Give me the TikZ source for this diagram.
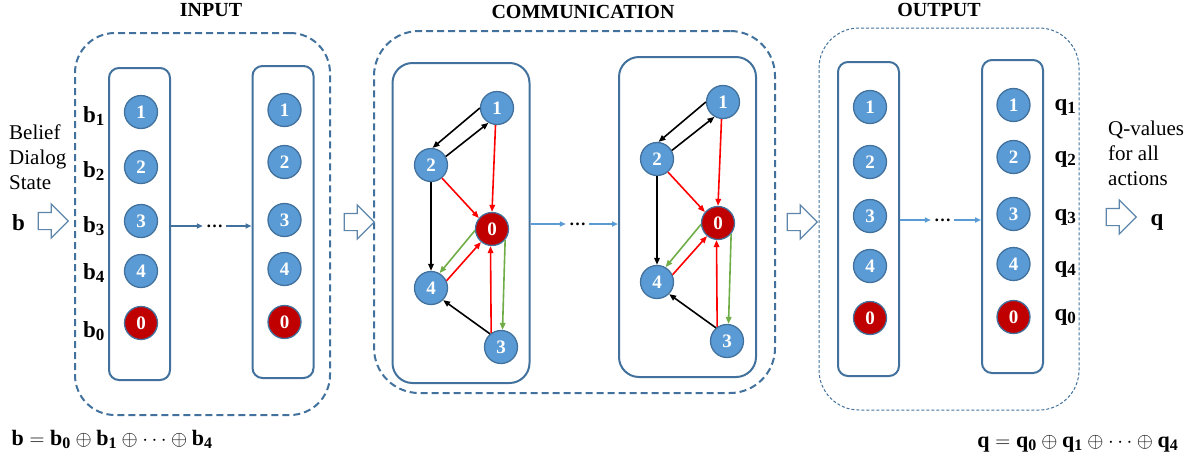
\documentclass[tikz,border=0pt]{standalone}
\usepackage{fontspec}
\setmainfont{Liberation Serif}
\usetikzlibrary{arrows.meta,shapes.arrows}
\definecolor{nodeblue}{HTML}{5B9BD5}
\definecolor{nodered}{HTML}{C00000}
\definecolor{rim}{HTML}{41719C}
\definecolor{edgegreen}{HTML}{70AD47}

\begin{document}
\begin{tikzpicture}[x=1pt,y=-1pt,
  unit/.style={circle,draw=rim,line width=1.3pt,fill=nodeblue,text=white,minimum size=33pt,inner sep=0pt,font=\fontsize{19}{19}\selectfont\bfseries},
  zero/.style={unit,fill=nodered},
  column/.style={draw=rim,line width=2pt,rounded corners=10pt,minimum width=61pt,minimum height=312pt},
  panel/.style={draw=rim,line width=2pt,rounded corners=20pt,minimum width=137pt,minimum height=320pt},
  group/.style={draw=rim,line width=2pt,dash pattern=on 7pt off 4pt,rounded corners=40pt},
  title/.style={font=\fontsize{20}{20}\selectfont\bfseries},
  bigarrow/.style={single arrow,draw=rim!85,line width=1.2pt,fill=white,minimum height=30pt,inner xsep=0pt,inner ysep=8pt,single arrow head extend=8.5pt},
  lbl/.style={font=\fontsize{23}{23}\selectfont,anchor=base},
  txt/.style={font=\fontsize{21}{25}\selectfont,align=left,anchor=north west,inner sep=0pt},
  gap/.style={font=\fontsize{17}{17}\selectfont\bfseries,inner xsep=3pt,inner ysep=0pt},
  link/.style={-{Triangle[length=6pt,width=5pt]},line width=1.6pt},
  msg/.style={-{Triangle[length=7pt,width=5.5pt]},line width=1.6pt}
]
\useasboundingbox (0,0) rectangle (1199,461);

% dashed groups and titles
\node[group,minimum width=255pt,minimum height=382pt] (inbox) at (202.5,224) {};
\node[group,minimum width=401pt,minimum height=362pt,rounded corners=45pt] (commbox) at (574.5,212) {};
\node[group,line width=1pt,dash pattern=on 3pt off 2pt,minimum width=260pt,minimum height=382pt] (outbox) at (949,219) {};
\node[title] (intitle) at (211,10) {INPUT};
\node[title] (commtitle) at (583,12) {COMMUNICATION};
\node[title] (outtitle) at (939,10) {OUTPUT};

% input and output columns
\node[column] (colA) at (139.5,224) {};
\node[column] (colB) at (283,222) {};
\node[column,minimum height=314pt] (colC) at (868.5,219) {};
\node[column,minimum height=313pt] (colD) at (1012.5,216.5) {};
\foreach \n/\y/\s in {1/112/unit,2/167/unit,3/221/unit,4/271/unit,0/323/zero}
  \node[\s] (a\n) at (141,\y) {\n};
\foreach \n/\y/\s in {1/110/unit,2/162/unit,3/220/unit,4/269/unit,0/322/zero}
  \node[\s] (b\n) at (284.5,\y) {\n};
\foreach \n/\y/\s in {1/107/unit,2/162/unit,3/216/unit,4/266/unit,0/318/zero}
  \node[\s] (c\n) at (870,\y) {\n};
\foreach \n/\y/\s in {1/105/unit,2/157/unit,3/214/unit,4/264/unit,0/317/zero}
  \node[\s] (d\n) at (1013.5,\y) {\n};
\foreach \n/\y in {1/122,2/177,3/232,4/279,0/337}
  \node[lbl] (bl\n) at (94,\y) {$\mathbf{b}_{\hbox{\fontsize{17}{17}\selectfont\bfseries\n}}$};
\foreach \n/\y in {1/110,2/162,3/220,4/272,0/320}
  \node[lbl,anchor=base west] (ql\n) at (1051,\y) {$\mathbf{q}_{\hbox{\fontsize{17}{17}\selectfont\bfseries\n}}$};

% communication panels
\node[panel] (panelA) at (461,223) {};
\node[panel] (panelB) at (687.5,217) {};
\foreach \g/\dx/\dy in {A/0/0,B/226/-6}{
  \begin{scope}[shift={(\dx,\dy)}]
    \node[unit] (\g1) at (497,108) {1};
    \node[unit] (\g2) at (431,165) {2};
    \node[zero] (\g0) at (492,229) {0};
    \node[unit] (\g4) at (431,288) {4};
    \node[unit] (\g3) at (501,347) {3};
  \end{scope}
  \draw[msg] (\g1.180) -- (\g2.85);
  \draw[msg] (\g2.30) -- (\g1.240);
  \draw[msg] (\g2) -- (\g4);
  \draw[msg] (\g3.130) -- (\g4.-45);
  \draw[msg,red] (\g1.265) -- (\g0.90);
  \draw[msg,red] (\g2.-50) -- (\g0.140);
  \draw[msg,red] (\g4.25) -- (\g0.230);
  \draw[msg,red] (\g3.125) -- (\g0.265);
  \draw[msg,edgegreen] (\g0.185) -- (\g4.60);
  \draw[msg,edgegreen] (\g0.-40) -- (\g3.85);
}

% layers in between
\node[gap] (dotsA) at (214.5,226) {\ldots};
\node[gap] (dotsB) at (577.5,224) {\ldots};
\node[gap] (dotsC) at (942.5,220) {\ldots};
\draw[link,rim] (colA.east |- dotsA) -- (dotsA.west);
\draw[link,rim] (dotsA.east) -- (colB.west |- dotsA);
\draw[link,nodeblue] (panelA.east |- dotsB) -- (dotsB.west);
\draw[link,nodeblue] (dotsB.east) -- (panelB.west |- dotsB);
\draw[link,nodeblue] (colC.east |- dotsC) -- (dotsC.west);
\draw[link,nodeblue] (dotsC.east) -- (colD.west |- dotsC);

% block arrows
\node[bigarrow] (arrB) at (49,221) {};
\node[bigarrow] (arrIC) at (355,222) {};
\node[bigarrow] (arrCO) at (798,222) {};
\node[bigarrow] (arrQ) at (1117,217) {};

% texts
\node[txt] (belief) at (9,124.5) {Belief\\Dialog\\State};
\node[txt] (qvalues) at (1108,120.5) {Q-values\\for all\\actions};
\node[lbl] (bin) at (18.5,230) {$\mathbf{b}$};
\node[lbl] (qout) at (1157,225) {$\mathbf{q}$};
\node[lbl,anchor=base west,font=\fontsize{22}{22}\selectfont] (bsum) at (8,445) {$\mathbf{b}=\mathbf{b}_{\hbox{\fontsize{16}{16}\selectfont\bfseries 0}}\oplus\mathbf{b}_{\hbox{\fontsize{16}{16}\selectfont\bfseries 1}}\oplus\cdots\oplus\mathbf{b}_{\hbox{\fontsize{16}{16}\selectfont\bfseries 4}}$};
\node[lbl,anchor=base east,font=\fontsize{22}{22}\selectfont] (qsum) at (1182,447) {$\mathbf{q}=\mathbf{q}_{\hbox{\fontsize{16}{16}\selectfont\bfseries 0}}\oplus\mathbf{q}_{\hbox{\fontsize{16}{16}\selectfont\bfseries 1}}\oplus\cdots\oplus\mathbf{q}_{\hbox{\fontsize{16}{16}\selectfont\bfseries 4}}$};
\end{tikzpicture}
\end{document}
